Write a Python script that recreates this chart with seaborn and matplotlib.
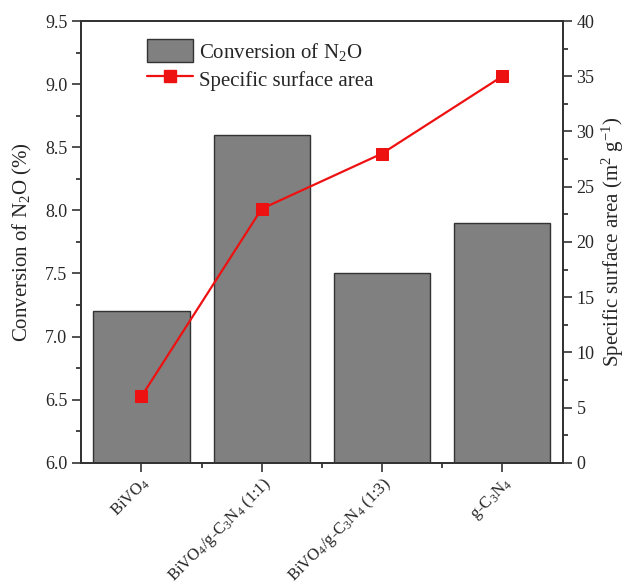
import pandas as pd
import matplotlib
matplotlib.use('Agg')
import matplotlib.pyplot as plt
import matplotlib.transforms as mtransforms
import seaborn as sns
from matplotlib.ticker import MultipleLocator, FormatStrFormatter
from matplotlib.lines import Line2D
from matplotlib.patches import Patch

# data
samples = ['BiVO$_4$', 'BiVO$_4$/g-C$_3$N$_4$ (1:1)', 'BiVO$_4$/g-C$_3$N$_4$ (1:3)', 'g-C$_3$N$_4$']
conversion = [7.2, 8.6, 7.5, 7.9]
surface_area = [6, 23, 28, 35]

data = pd.DataFrame({'Sample': samples, 'Conversion': conversion, 'Area': surface_area})

sns.set_style('ticks')
plt.rcParams['font.family'] = ['Liberation Serif', 'DejaVu Serif']
plt.rcParams['mathtext.fontset'] = 'custom'
plt.rcParams['mathtext.rm'] = 'Liberation Serif'
plt.rcParams['mathtext.it'] = 'Liberation Serif:italic'
plt.rcParams['xtick.direction'] = 'out'
plt.rcParams['ytick.direction'] = 'out'

red = '#ee1111'

fig, ax = plt.subplots(figsize=(6.25, 5.85), dpi=100)
fig.subplots_adjust(left=0.13, right=0.9, top=0.964, bottom=0.209)

sns.barplot(data=data, x='Sample', y='Conversion', color='#808080', saturation=1,
            edgecolor='#333333', linewidth=1, width=0.8, ax=ax)
ax.set_ylim(6.0, 9.5)
ax.set_xlim(-0.5, 3.5)
ax.yaxis.set_major_locator(MultipleLocator(0.5))
ax.yaxis.set_minor_locator(MultipleLocator(0.25))
ax.yaxis.set_major_formatter(FormatStrFormatter('%.1f'))
ax.set_xticks(range(len(samples)))
ax.set_xticks([0.5, 1.5, 2.5], minor=True)
ax.set_xticklabels(samples, rotation=45, ha='right', va='top', rotation_mode='anchor', fontsize=12)
offset = mtransforms.ScaledTranslation(0.15, -0.13, fig.dpi_scale_trans)
for lab in ax.get_xticklabels():
    lab.set_transform(lab.get_transform() + offset)
ax.set_xlabel('')
ax.set_ylabel('Conversion of N$_2$O (%)', fontsize=15, labelpad=8)
ax.tick_params(axis='y', labelsize=13, length=6.5, width=1.2, color='#333333')
ax.tick_params(axis='y', which='minor', length=3.5, width=1.2)
ax.tick_params(axis='x', length=6.5, width=1.2, color='#333333', pad=2)
ax.tick_params(axis='x', which='minor', length=3.5, width=1.2)

ax2 = ax.twinx()
sns.lineplot(x=list(range(len(samples))), y=surface_area, color=red, marker='s', markersize=9,
             markeredgecolor=red, markerfacecolor=red, linewidth=1.6, sort=False, ax=ax2)
ax2.set_ylim(0, 40)
ax2.yaxis.set_major_locator(MultipleLocator(5))
ax2.yaxis.set_minor_locator(MultipleLocator(2.5))
ax2.set_ylabel('Specific surface area (m$^2$ g$^{-1}$)', fontsize=15)
ax2.tick_params(axis='y', labelsize=13, length=6.5, width=1.2, color='#333333')
ax2.tick_params(axis='y', which='minor', length=3.5, width=1.2)

for a in (ax, ax2):
    for s in a.spines.values():
        s.set_linewidth(1.3)
        s.set_color('#333333')

handles = [Patch(facecolor='#808080', edgecolor='#333333', linewidth=1),
           Line2D([0], [0], color=red, marker='s', markersize=8, linewidth=1.6,
                  markerfacecolor=red, markeredgecolor=red)]
ax2.legend(handles, ['Conversion of N$_2$O', 'Specific surface area'], loc='upper left',
           bbox_to_anchor=(0.12, 0.978), frameon=False, fontsize=15, handlelength=2.2,
           handleheight=1.35, labelspacing=0.2, borderaxespad=0, handletextpad=0.3)

plt.savefig('out.png', dpi=100)
